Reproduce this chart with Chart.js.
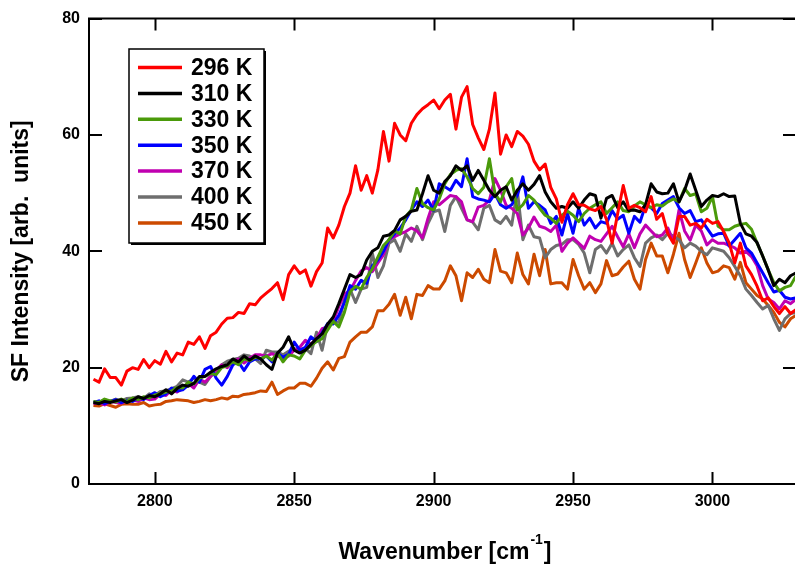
<!DOCTYPE html>
<html>
<head>
<meta charset="utf-8">
<script src="https://cdn.jsdelivr.net/npm/chart.js@4.4.1/dist/chart.umd.min.js"></script>
<style>
  html, body { margin: 0; padding: 0; background: #ffffff; }
  #wrap { width: 795px; height: 571px; }
</style>
</head>
<body>
<div id="wrap"><canvas id="sf-chart" width="795" height="571"></canvas></div>
<script>
// wavenumber grid [cm-1]
const wavenumber = [
  2778, 2780, 2782, 2784, 2786, 2788, 2790, 2792, 2794, 2796,
  2798, 2800, 2802, 2804, 2806, 2808, 2810, 2812, 2814, 2816,
  2818, 2820, 2822, 2824, 2826, 2828, 2830, 2832, 2834, 2836,
  2838, 2840, 2842, 2844, 2846, 2848, 2850, 2852, 2854, 2856,
  2858, 2860, 2862, 2864, 2866, 2868, 2870, 2872, 2874, 2876,
  2878, 2880, 2882, 2884, 2886, 2888, 2890, 2892, 2894, 2896,
  2898, 2900, 2902, 2904, 2906, 2908, 2910, 2912, 2914, 2916,
  2918, 2920, 2922, 2924, 2926, 2928, 2930, 2932, 2934, 2936,
  2938, 2940, 2942, 2944, 2946, 2948, 2950, 2952, 2954, 2956,
  2958, 2960, 2962, 2964, 2966, 2968, 2970, 2972, 2974, 2976,
  2978, 2980, 2982, 2984, 2986, 2988, 2990, 2992, 2994, 2996,
  2998, 3000, 3002, 3004, 3006, 3008, 3010, 3012, 3014, 3016,
  3018, 3020, 3022, 3024, 3026, 3028, 3030
];

const sf_296 = [
  18, 17.5, 19.8, 18.3, 18.3, 17, 19.4, 20, 19.7, 21.4,
  20, 21.2, 20.6, 22.8, 21, 22.5, 22.2, 24.4, 24, 25.3,
  23.3, 25.5, 26.1, 27.5, 28.5, 28.6, 29.5, 29.3, 31, 30.8,
  32, 32.8, 33.6, 34.6, 31.7, 36, 37.5, 36.2, 36.8, 34,
  36.5, 38, 44, 42.3, 44.5, 47.7, 50, 54.7, 50.5, 53,
  50, 54, 60.6, 55.5, 62, 60, 59, 62, 63.5, 64.5,
  65.2, 66, 64.5, 66, 67, 61, 66.5, 68.3, 61.8, 59.5,
  57.5, 61, 67.2, 56.7, 60, 58, 60.6, 59.8, 58.4, 55.5,
  54, 55, 51, 49, 45, 48, 49.9, 48, 47.9, 47.3,
  47, 47.7, 45.5, 41.4, 46.5, 51.3, 47.4, 47.9, 47.5, 46.8,
  49.4, 45.5, 46.5, 43, 41.4, 46, 46, 44.5, 44.8, 44,
  45.5, 44.8, 45.1, 43.4, 41.4, 38, 41.4, 37.5, 36, 34,
  31.5, 32, 30.5, 29.3, 30.5, 29.3, 30
];

const sf_310 = [
  14, 13.8, 14.2, 14, 14.3, 14.5, 14, 14.4, 15, 14.7,
  15.2, 15, 15.5, 16.2, 15.5, 16.4, 17, 16.8, 17.3, 18.5,
  18.5, 19.2, 19.8, 20.2, 20.5, 21.5, 21, 22, 21.3, 22,
  21.5, 20.5, 19.7, 22.5, 23.5, 25.3, 23, 22.5, 23, 24,
  25, 25.8, 27.5, 28.7, 31, 33.5, 36, 35.5, 36, 38.5,
  40, 40.6, 42.6, 42.8, 43.6, 45.4, 46, 46.9, 47.1, 49.9,
  53, 50.5, 50, 52, 53, 54.7, 53.9, 54.7, 52.2, 53.9,
  52.2, 50.5, 49.4, 50.5, 51.1, 48.8, 50.5, 51.6, 50.5, 51.5,
  53, 50.2, 48.5, 47.4, 47.7, 47.4, 48.5, 47.4, 48.8, 49.9,
  49.6, 45.7, 49.1, 49.6, 47.5, 48.5, 47, 47.1, 46.8, 48,
  51.6, 50.2, 49.9, 50, 51.6, 48.5, 50.5, 53.3, 50.5, 47.7,
  48.8, 49.6, 49.4, 49.9, 49.4, 49.5, 44.8, 43, 42.6, 41.5,
  39.2, 36.8, 34.1, 35.2, 34.6, 35.8, 36.3
];

const sf_330 = [
  14.2, 14, 14.6, 14.3, 14.1, 14.6, 14.2, 14.8, 14.5, 15,
  14.8, 15.3, 15.5, 15.8, 16, 16.6, 16.5, 17.5, 17.2, 18.2,
  18.5, 19, 18.8, 20, 20.3, 21, 20.5, 21.5, 21.2, 21.8,
  21.5, 22, 21.3, 22.5, 21, 22.2, 22, 21.5, 23, 23.8,
  24.5, 25, 26.5, 28, 27, 29.5, 33, 34, 33.5, 35.5,
  37, 39, 41, 42, 43.5, 43, 46, 47.1, 50.8, 48.2,
  47.5, 47.1, 49, 51.6, 53.2, 53.9, 54.2, 52.8, 50.8, 49.9,
  51, 55.9, 49.9, 48.5, 51.1, 52.5, 47.1, 48, 49.6, 48.8,
  47.4, 46.2, 45.7, 44.8, 46.2, 46.9, 46.2, 45.1, 46.5, 47.4,
  48, 48.5, 46.5, 47.5, 48.5, 47, 46.8, 47.8, 48.5, 48,
  47.5, 48, 47.8, 48.5, 49, 48.5, 50.8, 49.6, 49.9, 46.8,
  47.4, 49.4, 44.3, 43.7, 43.7, 44.3, 44.6, 44.8, 43.8, 41.4,
  39.2, 36.8, 34.6, 33.2, 33.8, 34.1, 35.8
];

const sf_350 = [
  14, 14.3, 13.8, 14.2, 14.5, 14, 14.4, 14.2, 14.8, 14.5,
  15.2, 15.7, 15, 15.5, 16.5, 16, 16.2, 17, 18.5, 17.5,
  19.7, 20.2, 18.2, 17, 18.5, 20.5, 21, 19.5, 21, 21.5,
  21.5, 22, 21, 22.5, 21.8, 22.3, 24.4, 23, 23.5, 25.3,
  24.5, 26, 27.6, 27.5, 29, 31.2, 34.1, 33.5, 35, 34.5,
  37.5, 38.5, 40, 42, 43, 44, 45.4, 47.1, 48.5, 47.7,
  48.8, 47, 51.6, 51.1, 50.5, 52.2, 51.1, 55.9, 49.4, 49,
  48.8, 48.5, 49.9, 48, 47.4, 48, 49.6, 52.8, 47.4, 48.5,
  47.9, 47.1, 44.8, 46, 42.8, 46.5, 43.1, 47.4, 44.5, 45.7,
  44, 45.1, 44.8, 47, 45.5, 46.2, 43.1, 46, 45, 47.9,
  47.5, 46.5, 48.2, 48.8, 49.4, 47.5, 46.5, 47, 45.1, 45.4,
  44, 42.6, 43, 43.1, 40.9, 42, 43.1, 40.6, 39.7, 38,
  36.3, 34.6, 33, 33.3, 32.1, 31.8, 32
];

const sf_370 = [
  13.8, 14, 13.6, 14.2, 14, 13.9, 14.3, 14.5, 14.2, 14.8,
  14.5, 14.6, 15.5, 15.2, 16.2, 15.8, 16.4, 17.3, 16.5, 18,
  17.5, 18.5, 19.5, 20.5, 20, 21, 21.5, 20.8, 21.6, 22.2,
  22.2, 22, 22.4, 22, 21.6, 22, 23, 23.5, 24.7, 24,
  25, 26.7, 27, 28, 30.5, 32.7, 33.2, 35, 36.6, 37.2,
  36.5, 38, 39.4, 42, 42.5, 43, 43.4, 44, 43.5, 42.3,
  45.7, 48.5, 48, 48.8, 49.6, 49.4, 48.5, 45.4, 45.1, 47.6,
  47.9, 48.8, 52.5, 50.5, 47.9, 47.4, 46.5, 42.8, 44, 45.9,
  44.3, 44, 43.4, 44.5, 40, 41.4, 42.3, 41.4, 40.5, 42.6,
  42, 41.7, 43, 44.3, 42.5, 40.8, 43, 40.6, 43, 44.5,
  43.5, 42.5, 42.8, 44, 41.7, 47.1, 43.5, 41.9, 44.5, 43.5,
  41.1, 42, 41.4, 41.4, 41, 40.6, 39.7, 40, 39.1, 37.5,
  34.1, 31.8, 31.2, 30.1, 31.5, 31, 31.8
];

const sf_400 = [
  14.2, 14, 14.5, 14.2, 14.6, 14.3, 14.7, 14.8, 15, 14.7,
  15.5, 15.2, 15.9, 16, 16.4, 16.8, 17.9, 17.5, 18.2, 17.5,
  17.1, 18.5, 19.5, 20.5, 21.1, 21.4, 21.6, 22.2, 22, 21.5,
  20.7, 23, 22.7, 22.7, 22.2, 22.8, 23.3, 22.7, 23.3, 22.4,
  26.1, 23, 27.5, 27.8, 27.8, 31.7, 33.5, 31.2, 33.5, 33.8,
  39.7, 35.5, 37.5, 41.4, 42, 40, 43, 41.7, 44.3, 42,
  44.8, 46.8, 47.1, 43.4, 47.9, 49.4, 47.4, 45.4, 45, 43.7,
  47.4, 47.9, 45.4, 44.8, 46, 44.5, 50.5, 42, 44.5, 42.5,
  42.3, 38.9, 40.3, 41, 41.2, 42, 42, 41.2, 39.7, 36.3,
  40.3, 41, 39.7, 41.4, 39.2, 40.3, 41.1, 38.9, 37.4, 41.4,
  42.3, 42.8, 42, 43.1, 42.6, 42, 40.6, 41.4, 40.9, 40,
  39.4, 40.6, 40.3, 40, 38.9, 37.4, 35.8, 33.5, 32.4, 31.2,
  30.1, 30.7, 28.4, 26.4, 28.4, 29.3, 29.5
];

const sf_450 = [
  13.5, 13.4, 13.8, 13.5, 13.2, 13.7, 13.8, 13.7, 13.7, 14,
  13.4, 13.6, 13.7, 14.2, 14.3, 14.5, 14.4, 14.3, 14, 14.2,
  14.5, 14.3, 14.5, 14.8, 14.6, 15.1, 15, 15.4, 15.5, 15.7,
  16, 15.9, 17.5, 15.4, 16, 16.5, 16.5, 17.3, 17.3, 16.8,
  18.2, 19.9, 21, 19.6, 21.6, 21.9, 24.4, 25.3, 26.1, 26.1,
  27, 29.8, 29.8, 30.9, 32.6, 29, 32.1, 28.4, 32.6, 32.4,
  34.1, 33.5, 33.5, 34.9, 37.5, 35.8, 31.5, 36.3, 35.5, 36.9,
  35.2, 34.6, 40.3, 36.6, 36.3, 34.6, 39.7, 36, 34.4, 39.5,
  35.8, 40.3, 34.4, 34.6, 34.6, 33.5, 38.6, 35.8, 33.5, 34.6,
  32.9, 34.4, 38.4, 35.8, 36.1, 37.3, 38.3, 35.2, 33.5, 38.6,
  41.4, 39.2, 39.2, 36.3, 39.5, 43.1, 38.6, 35.5, 38, 40.6,
  38, 36.3, 36.6, 37.5, 37.2, 35.2, 38.1, 34.6, 33.5, 32.4,
  31.8, 30.7, 29.5, 27.8, 27, 28.4, 29
];

const series_labels = ["296 K", "310 K", "330 K", "350 K", "370 K", "400 K", "450 K"];
const series_colors = ["#ff0000", "#000000", "#4a9a0a", "#0000ff", "#c000b0", "#6e6e6e", "#cc4a00"];
const series_values = [sf_296, sf_310, sf_330, sf_350, sf_370, sf_400, sf_450];

const x_ticks = [2800, 2850, 2900, 2950, 3000];
const y_ticks = [0, 20, 40, 60, 80];

const FONT = "'Liberation Sans', Arial, Helvetica, sans-serif";

// build datasets
const datasets = series_values.map((vals, i) => ({
  label: series_labels[i],
  data: vals.map((v, k) => ({ x: wavenumber[k], y: v })),
  borderColor: series_colors[i],
  backgroundColor: series_colors[i],
  borderWidth: 3,
  borderJoinStyle: "round",
  pointRadius: 0,
  tension: 0,
  fill: false,
}));

// frame, inward ticks, legend box and axis titles
const framePlugin = {
  id: "framePlugin",
  afterDraw(chart) {
    const ctx = chart.ctx;
    const a = chart.chartArea;
    const xs = chart.scales.x;
    const ys = chart.scales.y;
    ctx.save();
    ctx.strokeStyle = "#000000";
    ctx.lineWidth = 2;
    ctx.beginPath();
    ctx.moveTo(a.left, a.top);
    ctx.lineTo(a.right + 2, a.top);
    ctx.moveTo(a.left, a.top - 1);
    ctx.lineTo(a.left, a.bottom + 1);
    ctx.moveTo(a.left - 1, a.bottom);
    ctx.lineTo(a.right + 2, a.bottom);
    x_ticks.forEach((v) => {
      const px = Math.round(xs.getPixelForValue(v)) + 0.5;
      ctx.moveTo(px, a.bottom);
      ctx.lineTo(px, a.bottom - 12);
      ctx.moveTo(px, a.top);
      ctx.lineTo(px, a.top + 12);
    });
    y_ticks.forEach((v) => {
      const py = Math.round(ys.getPixelForValue(v));
      ctx.moveTo(a.left, py);
      ctx.lineTo(a.left + 13, py);
      ctx.moveTo(a.right, py);
      ctx.lineTo(a.right - 12, py);
    });
    ctx.stroke();

    // legend
    const lx = 129, ly = 49, lw = 135, lh = 194;
    ctx.fillStyle = "#000000";
    ctx.fillRect(lx + 2, ly + 2, lw, lh);
    ctx.fillStyle = "#ffffff";
    ctx.fillRect(lx, ly, lw, lh);
    ctx.lineWidth = 1.5;
    ctx.strokeRect(lx, ly, lw, lh);
    ctx.font = "bold 23px " + FONT;
    ctx.textBaseline = "middle";
    ctx.textAlign = "left";
    chart.data.datasets.forEach((ds, i) => {
      const yy = 67.5 + i * 25.9;
      ctx.strokeStyle = ds.borderColor;
      ctx.lineWidth = 3.5;
      ctx.beginPath();
      ctx.moveTo(138, yy);
      ctx.lineTo(182, yy);
      ctx.stroke();
      ctx.fillStyle = "#000000";
      ctx.fillText(ds.label, 191, yy + 1);
    });

    // x title with superscript
    ctx.fillStyle = "#000000";
    ctx.textBaseline = "alphabetic";
    const big = "bold 23px " + FONT;
    const small = "bold 14px " + FONT;
    const t1 = "Wavenumber [cm";
    const t2 = "-1";
    const t3 = "]";
    ctx.font = big;
    const w1 = ctx.measureText(t1).width;
    const w3 = ctx.measureText(t3).width;
    ctx.font = small;
    const w2 = ctx.measureText(t2).width;
    const total = w1 + w2 + w3 + 2;
    let tx = (a.left + a.right) / 2 + 3 - total / 2;
    const base = 559;
    ctx.font = big;
    ctx.fillText(t1, tx, base);
    ctx.font = small;
    ctx.fillText(t2, tx + w1 + 1, base - 15);
    ctx.font = big;
    ctx.fillText(t3, tx + w1 + w2 + 2, base);

    // y title
    ctx.translate(22, (a.top + a.bottom) / 2);
    ctx.rotate(-Math.PI / 2);
    ctx.textAlign = "center";
    ctx.textBaseline = "middle";
    ctx.font = big;
    ctx.fillText("SF Intensity [arb.  units]", 0, 0);
    ctx.restore();
  },
};

new Chart(document.getElementById("sf-chart"), {
  type: "line",
  data: { datasets: datasets },
  options: {
    responsive: false,
    animation: false,
    devicePixelRatio: 1,
    layout: { padding: { top: 13, right: 0, bottom: 0, left: 0 } },
    scales: {
      x: {
        type: "linear",
        min: 2776.4,
        max: 3029.6,
        grid: { display: false, drawTicks: false },
        border: { display: false },
        afterFit: function (s) { s.height = 87; },
        afterBuildTicks: function (s) { s.ticks = x_ticks.map((v) => ({ value: v })); },
        ticks: {
          padding: 8,
          color: "#000000",
          maxRotation: 0,
          font: { family: FONT, weight: "bold", size: 16 },
          callback: (v) => String(v),
        },
      },
      y: {
        min: 0,
        max: 80,
        grid: { display: false, drawTicks: false },
        border: { display: false },
        afterFit: function (s) { s.width = 89; },
        afterBuildTicks: function (s) { s.ticks = y_ticks.map((v) => ({ value: v })); },
        ticks: {
          padding: 9,
          color: "#000000",
          font: { family: FONT, weight: "bold", size: 16 },
        },
      },
    },
    plugins: {
      legend: { display: false },
      tooltip: { enabled: false },
    },
  },
  plugins: [framePlugin],
});
</script>
</body>
</html>
